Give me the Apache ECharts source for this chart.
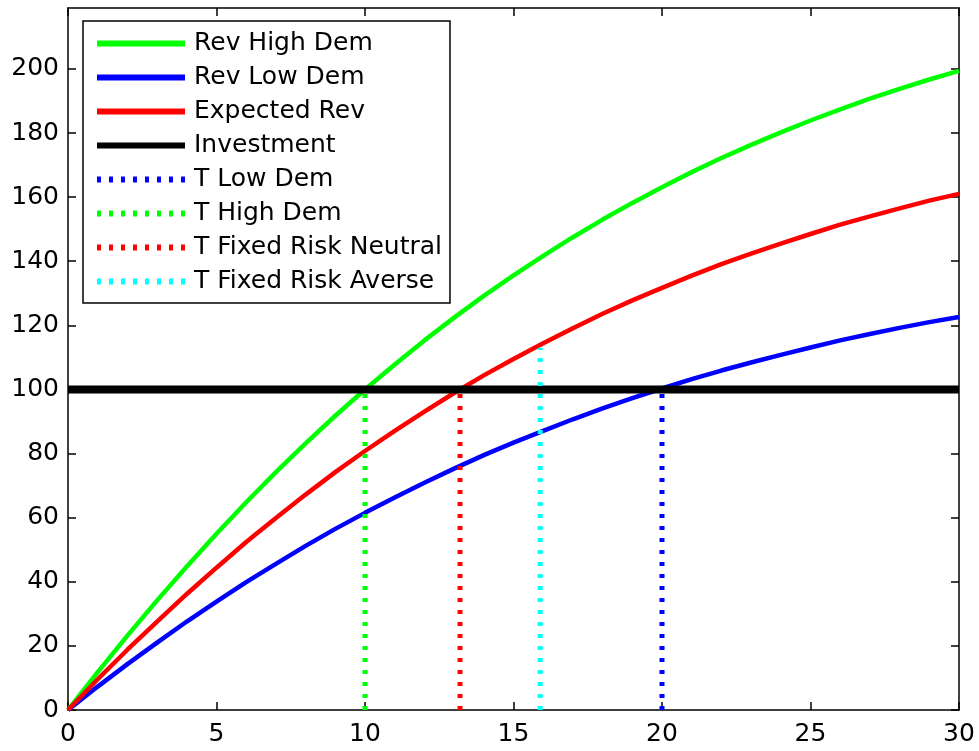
<!DOCTYPE html>
<html>
<head>
<meta charset="utf-8">
<script src="https://cdn.jsdelivr.net/npm/echarts@6/dist/echarts.min.js"></script>
<style>
html,body{margin:0;padding:0;background:#fff;}
#main{width:979px;height:751px;}
</style>
</head>
<body>
<div id="main"></div>
<script>
// time axis (0..30) and the revenue curves
var tVals = [0,1,2,3,4,5,6,7,8,9,10,11,12,13,14,15,16,17,18,19,20,21,22,23,24,25,26,27,28,29,30];
var revHigh = [0,11.8,23.2,34.2,44.8,55,64.8,74.2,83.2,91.8,100,107.8,115.3,122.4,129.2,135.6,141.7,147.5,153,158.2,163.1,167.8,172.2,176.3,180.2,183.9,187.4,190.7,193.8,196.7,199.4];
var revLow = [0,7.3,14.3,21.0,27.6,33.8,39.9,45.6,51.2,56.5,61.5,66.3,70.9,75.3,79.5,83.4,87.1,90.7,94.1,97.3,100.3,103.2,105.9,108.4,110.8,113.1,115.3,117.3,119.2,121.0,122.6];
var revExp = [0,9.6,18.8,27.6,36.2,44.4,52.4,59.9,67.2,74.2,80.8,87.1,93.1,98.9,104.4,109.5,114.4,119.1,123.6,127.8,131.7,135.5,139.1,142.4,145.5,148.5,151.4,154.0,156.5,158.9,161.0];
var investment = 100;
// vertical markers: [t, top]
var tLowDem = [20, 100];
var tHighDem = [10, 100];
var tRiskNeutral = [13.2, 100];
var tRiskAverse = [15.9, 113];
var yTicks = [0,20,40,60,80,100,120,140,160,180,200];

var FONT = "DejaVu Sans";

function pairs(ys){
    var out = [];
    for(var i=0;i<tVals.length;i++){ out.push([tVals[i], ys[i]]); }
    return out;
}
function vline(m){ return [[m[0],0],[m[0],m[1]]]; }

var chart = echarts.init(document.getElementById('main'));

var axisCommon = {
    axisLine: {show:true, onZero:false, lineStyle:{color:'#000', width:1.5}},
    axisTick: {show:true, inside:true, length:8, lineStyle:{color:'#000', width:1.5}},
    splitLine: {show:false}
};
var yTick = {show:true, inside:true, length:8, customValues:yTicks, lineStyle:{color:'#000', width:1.5}};

function solid(name, color, data, w){
    return {name:name, type:'line', data:data, symbol:'none', smooth:false,
        lineStyle:{color:color, width:w}, itemStyle:{color:color}};
}
function dotted(name, color, data){
    return {name:name, type:'line', data:data, symbol:'none',
        lineStyle:{color:color, width:5, type:[4,8]}, itemStyle:{color:color}};
}

var option = {
    animation: false,
    backgroundColor: '#fff',
    grid: {left:68, right:20, top:8, bottom:41},
    legend: {
        orient: 'vertical',
        left: 83, top: 21,
        backgroundColor: '#fff',
        borderColor: '#000', borderWidth: 1.5, borderRadius: 0,
        padding: [10, 8, 9, 11],
        itemWidth: 88, itemHeight: 14, itemGap: 9,
        itemStyle: {opacity: 0},
        lineStyle: {width: 6},
        textStyle: {fontFamily: FONT, fontSize: 25, color: '#000', padding: [0,0,0,4]},
        data: ['Rev High Dem','Rev Low Dem','Expected Rev','Investment','T Low Dem','T High Dem','T Fixed Risk Neutral','T Fixed Risk Averse']
    },
    xAxis: [
        Object.assign({type:'value', min:0, max:30, interval:5, position:'bottom',
            axisLabel:{fontFamily:FONT, fontSize:25, color:'#000', margin:12}}, axisCommon),
        Object.assign({type:'value', min:0, max:30, interval:5, position:'top',
            axisLabel:{show:false}}, axisCommon)
    ],
    yAxis: [
        Object.assign({type:'value', min:0, max:219, position:'left',
            axisLabel:{fontFamily:FONT, fontSize:25, color:'#000', margin:9, customValues:yTicks}}, axisCommon,
            {axisTick:yTick}),
        Object.assign({type:'value', min:0, max:219, position:'right',
            axisLabel:{show:false}}, axisCommon,
            {axisTick:yTick})
    ],
    series: [
        solid('Rev High Dem', '#00ff00', pairs(revHigh), 4.5),
        solid('Rev Low Dem', '#0000ff', pairs(revLow), 4.5),
        solid('Expected Rev', '#ff0000', pairs(revExp), 4.5),
        solid('Investment', '#000000', [[0,investment],[30,investment]], 8),
        dotted('T Low Dem', '#0000ff', vline(tLowDem)),
        dotted('T High Dem', '#00ff00', vline(tHighDem)),
        dotted('T Fixed Risk Neutral', '#ff0000', vline(tRiskNeutral)),
        dotted('T Fixed Risk Averse', '#00ffff', vline(tRiskAverse))
    ]
};
chart.setOption(option);
</script>
</body>
</html>
